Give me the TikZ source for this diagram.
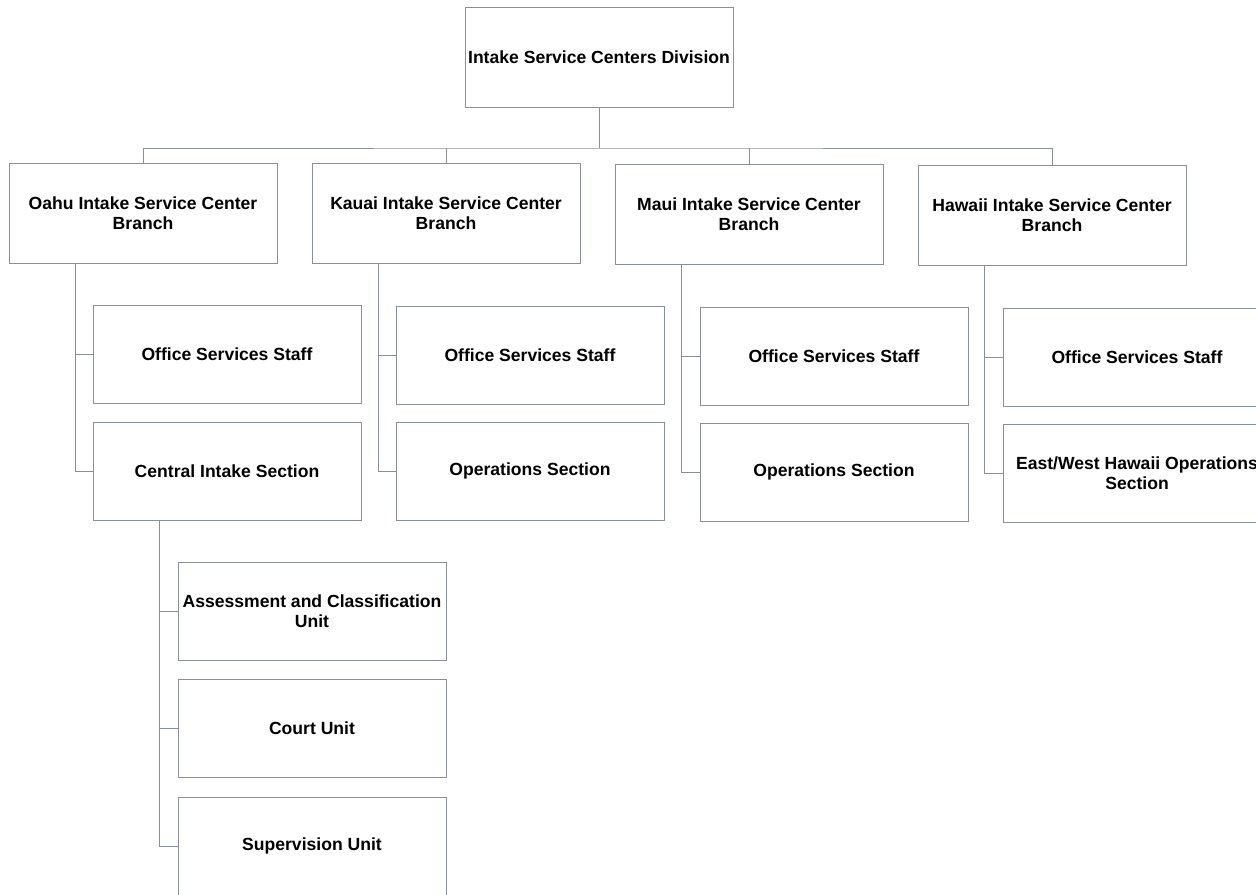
\documentclass[tikz,border=0pt]{standalone}
\usepackage{fontspec}
\setmainfont{Liberation Sans}
\usetikzlibrary{calc}
\definecolor{linegray}{RGB}{138,142,152}

\begin{document}
\begin{tikzpicture}[x=0.2mm, y=-0.2mm, font=\fontsize{10}{11.5}\selectfont\bfseries,
    box/.style={draw=linegray, line width=0.5pt, minimum width=53.6mm, minimum height=19.6mm, align=center, inner sep=0pt},
    link/.style={draw=linegray, line width=0.5pt}]
    \fill[white] (0,0) rectangle (1256,894);
    \useasboundingbox (0,0) rectangle (1256,894);

    % division and branches
    \node[box, minimum height=20mm] (div) at (599,57) {Intake Service Centers Division};
    \node[box, minimum height=20mm] (oahu) at (143,213) {Oahu Intake Service Center\\Branch};
    \node[box, minimum height=20mm] (kauai) at (446,213) {Kauai Intake Service Center\\Branch};
    \node[box, minimum height=20mm] (maui) at (749,214) {Maui Intake Service Center\\Branch};
    \node[box, minimum height=20mm] (hawaii) at (1052,215) {Hawaii Intake Service Center\\Branch};

    % sections
    \node[box] (oahuoff) at (227,354) {Office Services Staff};
    \node[box] (oahucis) at (227,471) {Central Intake Section};
    \node[box] (kauaioff) at (530,355) {Office Services Staff};
    \node[box] (kauaiops) at (530,471) {Operations Section};
    \node[box] (mauioff) at (834,356) {Office Services Staff};
    \node[box] (mauiops) at (834,472) {Operations Section};
    \node[box] (hawaiioff) at (1137,357) {Office Services Staff};
    \node[box] (hawaiiops) at (1137,473) {East/West Hawaii Operations\\Section};

    % units
    \node[box] (acu) at (312,611) {Assessment and Classification\\Unit};
    \node[box] (court) at (312,728) {Court Unit};
    \node[box] (sup) at (312,846) {Supervision Unit};

    % connectors
    \coordinate (bus) at (599,148);
    \draw[link] (div.south) -- (bus);
    \draw[link] (oahu.north) |- (bus) -| (hawaii.north);
    \draw[link] (kauai.north) -- (kauai.north |- bus);
    \draw[link] (maui.north) -- (maui.north |- bus);

    \foreach \up/\first/\last in {oahu/oahuoff/oahucis, kauai/kauaioff/kauaiops, maui/mauioff/mauiops, hawaii/hawaiioff/hawaiiops} {
        \coordinate (\up spine) at ($(\up.south west)+(67,0)$);
        \draw[link] (\up spine) |- (\last.west);
        \draw[link] (\up spine |- \first.west) -- (\first.west);
    }

    \coordinate (cisspine) at ($(oahucis.south west)+(67,0)$);
    \draw[link] (cisspine) |- (sup.west);
    \draw[link] (cisspine |- acu.west) -- (acu.west);
    \draw[link] (cisspine |- court.west) -- (court.west);
\end{tikzpicture}
\end{document}
